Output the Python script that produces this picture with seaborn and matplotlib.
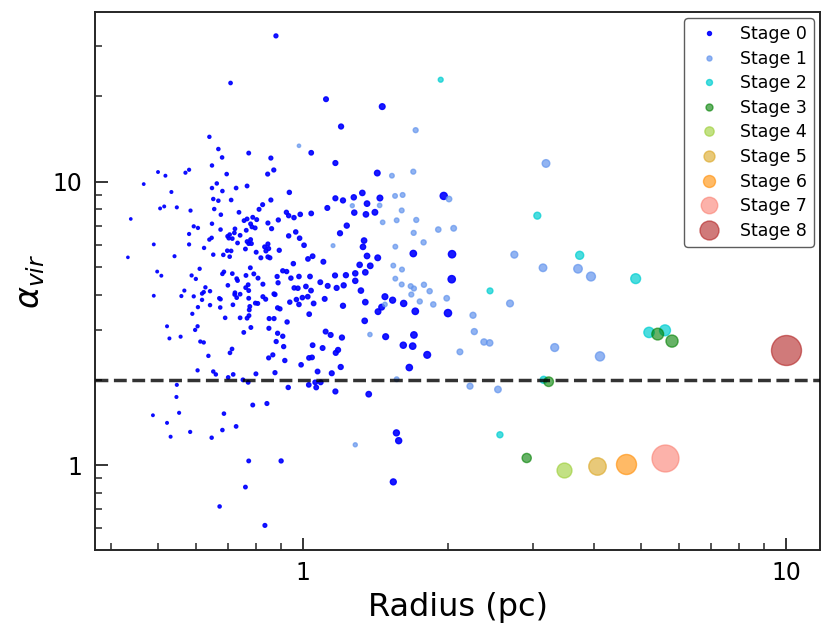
import numpy as np
import pandas as pd
import matplotlib
matplotlib.use("Agg")
import matplotlib.pyplot as plt
import matplotlib.ticker as mticker
from matplotlib.lines import Line2D
import seaborn as sns

# ---------------- data (radius [pc], alpha_vir) ----------------
stage0_r = [
    0.879, 0.708, 1.116, 1.459, 1.199,
    0.640, 0.668, 0.772, 0.680, 0.858, 0.648, 0.501, 0.519, 0.571, 0.581,
    0.695, 0.845, 0.870, 0.468, 0.663, 0.648, 0.766, 0.727, 0.681, 0.534,
    0.652, 0.668, 0.710, 0.858, 0.825, 0.516, 0.506, 0.548, 0.655, 0.585,
    0.737, 0.811, 0.676, 0.440, 0.787, 0.755, 0.802, 0.766, 0.648, 0.779,
    0.846, 0.594, 0.606, 0.784, 0.796, 0.861, 0.675, 0.723, 0.763, 0.581,
    0.705, 0.721, 0.698, 0.702, 0.741, 0.647, 0.640, 0.714, 0.779, 0.766,
    0.772, 0.782, 0.732, 0.491, 0.581, 0.846, 0.833, 0.849, 0.624, 0.760,
    0.697, 0.710, 0.800, 0.838, 0.652, 0.684, 0.705, 0.434, 0.542, 0.818,
    0.846, 0.854,
    0.611, 0.499, 0.509, 0.588, 0.600, 0.686, 0.681, 0.714, 0.778, 0.791,
    0.762, 0.729, 0.732, 0.807, 0.699, 0.770, 0.761, 0.826, 0.628, 0.568,
    0.642, 0.623, 0.618, 0.772, 0.723, 0.722, 0.741, 0.491, 0.560, 0.594,
    0.671, 0.675, 0.729, 0.772, 0.826, 0.837, 0.871, 0.618, 0.797, 0.806,
    0.642, 0.716, 0.776, 0.606, 0.674, 0.774, 0.590, 0.773, 0.690, 0.741,
    0.766, 0.851, 0.871, 0.523, 0.605, 0.780, 0.598, 0.850, 0.754, 0.529,
    0.558, 0.613, 0.623, 0.713, 0.706, 0.637, 0.866, 0.849, 0.605, 0.652,
    0.660, 0.717, 0.700, 0.799, 0.875, 0.751, 0.770, 0.548,
    1.040, 1.167, 1.425, 0.937, 1.167, 1.210, 1.274, 1.327, 1.357, 1.443,
    1.956, 1.123, 0.924, 0.934, 0.958, 0.987, 1.040, 1.277, 1.350, 1.409,
    0.889, 1.232, 0.966, 1.193, 0.934, 0.984, 1.338, 1.005, 1.331, 0.893,
    1.047, 1.024, 1.357, 1.428, 1.692, 2.035,
    0.955, 1.102, 0.908, 0.925, 0.884, 0.944, 0.981, 1.034, 0.888, 0.959,
    0.976, 1.014, 1.039, 1.086, 1.125, 1.165, 1.227, 1.174, 1.214, 1.283,
    1.346, 1.378, 1.310, 1.283, 1.318, 0.875, 0.969, 0.997, 1.023, 1.109,
    0.939, 0.981, 1.052, 0.886, 0.896, 1.210, 1.030, 1.346, 1.478, 1.533,
    1.616, 1.455, 1.430, 1.708, 2.032, 1.996, 0.927, 1.342, 0.886, 0.908,
    1.114, 1.141, 1.204, 1.483, 1.697, 0.880, 0.912, 1.047, 1.098, 1.182,
    1.169, 1.613, 1.687, 1.808, 0.917, 0.991, 1.029, 1.044, 1.197, 1.072,
    1.147, 1.660, 1.060, 1.088, 1.028, 1.065, 0.932,
    1.167, 1.368, 0.547, 0.787, 0.842, 0.489, 0.554, 0.686, 0.523, 0.727,
    0.532, 0.584, 0.647, 0.681, 1.561, 1.578, 0.772, 0.901, 0.760, 1.538,
    0.672, 0.834,
]
stage0_a = [
    32.7, 22.3, 19.55, 18.41, 15.66,
    14.40, 13.04, 12.62, 12.18, 12.12, 11.41, 10.82, 10.50, 10.76, 11.02,
    10.64, 10.64, 11.00, 9.81, 9.86, 9.50, 9.66, 9.50, 9.27, 9.20,
    8.69, 8.57, 8.62, 8.62, 8.30, 8.18, 8.05, 8.12, 8.01, 7.91,
    7.80, 7.99, 7.65, 7.39, 7.49, 7.29, 7.35, 7.39, 7.11, 7.10,
    7.15, 6.96, 6.87, 6.93, 6.87, 6.83, 6.78, 6.82, 6.74, 6.54,
    6.51, 6.60, 6.42, 6.32, 6.47, 6.34, 6.25, 6.30, 6.25, 6.15,
    6.05, 6.05, 6.08, 6.01, 6.01, 6.03, 5.89, 5.81, 5.84, 5.79,
    5.71, 5.70, 5.64, 5.70, 5.53, 5.52, 5.44, 5.41, 5.46, 5.39,
    5.43, 5.39,
    4.93, 4.82, 4.66, 4.67, 4.54, 4.81, 4.73, 4.74, 4.97, 4.73,
    4.67, 4.55, 4.48, 4.57, 4.31, 4.33, 4.23, 4.35, 4.24, 4.13,
    4.11, 4.08, 4.03, 4.13, 4.06, 4.00, 4.01, 3.96, 3.95, 3.94,
    3.88, 3.85, 3.90, 3.88, 3.93, 3.85, 4.02, 3.83, 3.73, 3.72,
    3.67, 3.68, 3.63, 3.61, 3.60, 3.53, 3.42, 3.37, 3.31, 3.31,
    3.30, 3.29, 3.29, 3.09, 3.09, 3.06, 3.00, 3.04, 2.94, 2.80,
    2.84, 2.73, 2.71, 2.57, 2.49, 2.43, 2.45, 2.39, 2.16, 2.14,
    2.09, 2.09, 2.04, 2.10, 2.12, 2.00, 1.96, 1.92,
    12.65, 11.64, 10.73, 9.17, 8.74, 8.59, 8.81, 9.13, 8.37, 8.76,
    8.91, 8.08, 7.80, 7.59, 7.47, 7.67, 7.73, 7.78, 7.67, 7.80,
    7.33, 7.00, 6.65, 6.58, 6.44, 6.32, 6.20, 5.97, 5.89, 5.73,
    5.46, 5.34, 5.47, 5.39, 5.58, 5.55,
    5.14, 5.22, 4.85, 4.82, 4.63, 4.57, 4.63, 4.63, 4.40, 4.22,
    4.21, 4.27, 4.13, 4.42, 4.29, 4.67, 4.68, 4.22, 4.31, 4.75,
    4.79, 5.05, 5.09, 4.47, 4.13, 4.00, 3.84, 3.90, 3.93, 3.86,
    3.76, 3.69, 3.72, 3.59, 3.56, 3.65, 3.41, 3.76, 3.93, 3.82,
    3.72, 3.61, 3.48, 3.49, 4.53, 3.44, 3.20, 3.23, 2.92, 2.85,
    2.96, 2.88, 2.82, 2.84, 2.88, 2.73, 2.62, 2.65, 2.59, 2.55,
    2.49, 2.65, 2.63, 2.45, 2.34, 2.26, 2.39, 2.40, 2.22, 2.14,
    2.11, 2.21, 1.96, 1.96, 1.92, 1.88, 1.88,
    1.82, 1.78, 1.74, 1.63, 1.65, 1.50, 1.53, 1.52, 1.41, 1.37,
    1.26, 1.31, 1.25, 1.33, 1.30, 1.22, 1.035, 1.035, 0.837, 0.873,
    0.715, 0.613,
]
stage1_r = [
    0.981, 1.528, 1.692, 1.711, 1.551, 1.608, 2.006, 1.265, 1.441, 1.601,
    1.462, 1.563, 1.716, 1.906, 2.051, 1.695, 1.777, 1.154, 1.553, 1.538,
    1.603, 1.553, 1.601, 1.671, 1.697, 1.676, 1.780, 1.829, 1.745, 1.861,
    1.984, 1.478, 1.376, 2.113, 1.563, 2.217, 1.283, 3.185, 2.739, 3.140,
    3.710, 3.947, 2.683, 2.249, 2.263, 2.370, 2.435, 3.320, 4.120, 2.533,
]
stage1_a = [
    13.39, 10.50, 10.85, 15.2, 8.91, 8.98, 8.69, 8.23, 8.25, 7.92,
    7.19, 7.31, 7.33, 6.78, 6.85, 6.60, 6.11, 5.95, 5.90, 5.06,
    4.90, 4.55, 4.34, 4.28, 4.20, 4.00, 4.33, 4.11, 3.78, 3.69,
    3.88, 3.69, 2.89, 2.51, 2.01, 1.90, 1.18, 11.60, 5.53, 4.97,
    4.93, 4.63, 3.72, 3.38, 2.96, 2.72, 2.70, 2.60, 2.42, 1.85,
]
stage2_r = [1.928, 3.056, 3.740, 4.884, 2.439, 5.205, 5.617, 3.150, 2.557]
stage2_a = [22.9, 7.59, 5.50, 4.55, 4.12, 2.94, 2.99, 2.00, 1.28]
stage3_r = [5.425, 5.808, 3.226, 2.905]
stage3_a = [2.90, 2.74, 1.97, 1.06]
stage4_r = [3.471]
stage4_a = [0.963]
stage5_r = [4.061]
stage5_a = [0.994]
stage6_r = [4.657]
stage6_a = [1.006]
stage7_r = [5.609]
stage7_a = [1.06]
stage8_r = [10.0]
stage8_a = [2.54]

stage_labels = [f"Stage {i}" for i in range(9)]
x_ticks = [1, 10]
y_ticks = [1, 10]
alpha_threshold = 2.0

radii = [stage0_r, stage1_r, stage2_r, stage3_r, stage4_r, stage5_r,
         stage6_r, stage7_r, stage8_r]
alphas = [stage0_a, stage1_a, stage2_a, stage3_a, stage4_a, stage5_a,
          stage6_a, stage7_a, stage8_a]

rows = []
for k, (rr, aa) in enumerate(zip(radii, alphas)):
    for r, a in zip(rr, aa):
        rows.append((r, a, k))
df = pd.DataFrame(rows, columns=["radius", "alpha_vir", "stage"])

# ---------------- style ----------------
colors = ["blue", "cornflowerblue", "darkturquoise", "green", "yellowgreen",
          "goldenrod", "darkorange", "salmon", "firebrick"]
opac = [0.9, 0.7, 0.7, 0.6, 0.6, 0.6, 0.6, 0.6, 0.6]
# marker diameter (px) = c * r**p
size_c = [4.3, 3.4, 3.0, 6.0, 4.3, 4.3, 4.3, 4.8, 3.0]
size_p = [0.75, 0.7, 0.75, 0.4, 1.0, 1.0, 1.0, 1.0, 1.0]
legend_d_px = [4, 5, 6, 7, 9.3, 11, 12, 16.5, 19]

DPI = 100
PX2PT = 72.0 / DPI

sns.set_theme(style="ticks")
plt.rcParams["font.family"] = ["DejaVu Sans"]
plt.rcParams["mathtext.fontset"] = "dejavusans"
plt.rcParams["text.color"] = "black"
plt.rcParams["axes.labelcolor"] = "black"
plt.rcParams["xtick.labelcolor"] = "black"
plt.rcParams["ytick.labelcolor"] = "black"

fig = plt.figure(figsize=(8.31, 6.37), dpi=DPI)
ax = fig.add_axes([95 / 831, 1 - 550 / 637, 725 / 831, 538 / 637])

for k in range(9):
    sub = df[df["stage"] == k]
    d_px = size_c[k] * sub["radius"].to_numpy() ** size_p[k]
    s = (d_px * PX2PT) ** 2
    sns.scatterplot(data=sub, x="radius", y="alpha_vir", s=s,
                    color=colors[k], alpha=opac[k], edgecolor=colors[k],
                    linewidth=1.0, ax=ax, legend=False, zorder=2)

ax.axhline(alpha_threshold, color="black", alpha=0.8, ls="--", lw=2.5, zorder=3)

ax.set_xscale("log")
ax.set_yscale("log")
ax.set_xlim(0.371, 11.76)
ax.set_ylim(0.502, 39.7)

fmt = mticker.FuncFormatter(lambda v, _: f"{v:g}")
ax.xaxis.set_major_locator(mticker.FixedLocator(x_ticks))
ax.yaxis.set_major_locator(mticker.FixedLocator(y_ticks))
ax.xaxis.set_major_formatter(fmt)
ax.yaxis.set_major_formatter(fmt)
ax.xaxis.set_minor_locator(mticker.LogLocator(base=10, subs=np.arange(2, 10)))
ax.yaxis.set_minor_locator(mticker.LogLocator(base=10, subs=np.arange(2, 10)))
ax.xaxis.set_minor_formatter(mticker.NullFormatter())
ax.yaxis.set_minor_formatter(mticker.NullFormatter())

ax.tick_params(which="major", direction="in", length=9, width=1.3,
               labelsize=17, color="0.15", top=False, right=False)
ax.tick_params(which="minor", direction="in", length=5, width=1.1,
               color="0.15", top=False, right=False)
ax.tick_params(axis="x", which="major", pad=8)
ax.tick_params(axis="y", which="major", pad=9)

for sp in ax.spines.values():
    sp.set_linewidth(1.4)
    sp.set_color("0.15")

ax.set_xlabel("Radius (pc)", fontsize=23, labelpad=5)
ax.set_ylabel(r"$\alpha_{vir}$", fontsize=24, labelpad=4)

handles = [Line2D([], [], ls="none", marker="o",
                  markersize=legend_d_px[k] * PX2PT,
                  markerfacecolor=colors[k], markeredgecolor=colors[k],
                  markeredgewidth=1.0, alpha=opac[k])
           for k in range(9)]
leg = ax.legend(handles, stage_labels, loc="upper right", fontsize=12.5,
                labelspacing=0.38, frameon=True, fancybox=True,
                borderpad=0.4, handletextpad=0.8, borderaxespad=0.35)
leg.get_frame().set_edgecolor("0.2")
leg.get_frame().set_linewidth(1.0)
for t in leg.get_texts():
    t.set_color("black")

fig.savefig("out.png", dpi=DPI)
